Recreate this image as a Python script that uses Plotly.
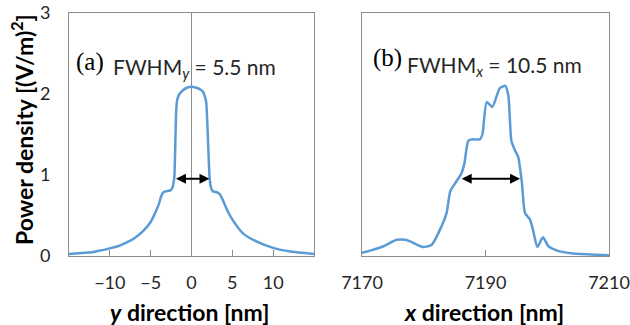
import plotly.graph_objects as go

# ---- data ----
y_pos = [-15, -13, -12, -11, -10, -9, -8, -7, -6, -5, -4.5, -4, -3.7, -3.4, -3.0, -2.6,
         -2.35, -2.2, -2.09, -1.88, -1.75, -1.47, -1.0, -0.5, 0, 0.5, 1.0, 1.39, 1.6,
         1.8, 2.2, 2.35, 2.6, 3.0, 3.4, 3.7, 4.05, 4.5, 5.07, 6.3, 7.94, 10, 12.1, 15]
p_y = [0.025, 0.04, 0.05, 0.07, 0.095, 0.12, 0.165, 0.22, 0.3, 0.42, 0.52, 0.64, 0.74,
       0.79, 0.8, 0.81, 0.84, 0.9, 0.99, 1.78, 1.93, 2.0, 2.05, 2.08, 2.09, 2.08, 2.06,
       2.03, 1.98, 1.9, 0.99, 0.86, 0.8, 0.79, 0.77, 0.72, 0.64, 0.54, 0.44, 0.28, 0.18,
       0.1, 0.055, 0.025]

x_pos = [7170, 7171.5, 7173.5, 7175.6, 7177, 7177.8, 7179.9, 7181.3, 7182.9, 7183.7,
         7184.3, 7185.1, 7186.1, 7186.6, 7187.2, 7187.8, 7189.1, 7189.5, 7190.2, 7191.1,
         7192.3, 7193.2, 7193.7, 7194.2, 7194.8, 7195.3, 7195.9, 7196.4, 7197.2, 7197.7,
         7198.4, 7199.3, 7200.2, 7201.5, 7204.2, 7210]
p_x = [0.04, 0.07, 0.12, 0.2, 0.2, 0.18, 0.11, 0.14, 0.37, 0.53, 0.8, 0.9, 1.02, 1.15,
       1.42, 1.44, 1.44, 1.5, 1.9, 1.84, 2.07, 2.1, 1.98, 1.42, 1.3, 1.22, 0.9, 0.53,
       0.45, 0.32, 0.11, 0.23, 0.12, 0.07, 0.03, 0.01]

fwhm_y = [-2.09, 2.2]      # arrow ends, panel (a)
fwhm_x = [7185.9, 7195.6]  # arrow ends, panel (b)
fwhm_level = 0.955

y_ticks = [-10, -5, 0, 5, 10]
x_ticks = [7170, 7190, 7210]
p_ticks = [0, 1, 2, 3]

# ---- style ----
BLUE = "#5B9BD5"
GRID = "#8C8C8C"
SANS = "Lato"
SERIF = "Liberation Serif"
TXT = "#262626"

W, H = 630, 325


def px(v):
    return v / W


def py(v):
    return 1 - v / H


fig = go.Figure()
fig.add_trace(go.Scatter(x=y_pos, y=p_y, mode="lines", xaxis="x", yaxis="y",
                         line=dict(color=BLUE, width=2.5, shape="spline", smoothing=0.5),
                         showlegend=False, hoverinfo="skip"))
fig.add_trace(go.Scatter(x=x_pos, y=p_x, mode="lines", xaxis="x2", yaxis="y2",
                         line=dict(color=BLUE, width=2.5, shape="spline", smoothing=0.6),
                         showlegend=False, hoverinfo="skip"))

xd1 = [px(69), px(314)]
xd2 = [px(362), px(609)]
yd = [py(256), py(13)]

axis_common = dict(showline=True, mirror=True, linecolor=GRID, linewidth=1, automargin=False,
                   showgrid=False, tickfont=dict(family=SANS, size=18, color=TXT))

fig.update_layout(
    width=W, height=H, margin=dict(l=0, r=0, t=0, b=0, autoexpand=False),
    paper_bgcolor="white", plot_bgcolor="white",
    xaxis=dict(domain=xd1, range=[-15, 15], tickvals=y_ticks, ticks="inside", ticklen=6,
               tickcolor=GRID, zeroline=True, zerolinecolor=GRID, zerolinewidth=1,
               ticklabelstandoff=10, anchor="y", **axis_common),
    yaxis=dict(domain=yd, range=[0, 3], tickvals=p_ticks, ticks="", zeroline=False,
               ticklabelstandoff=14, anchor="x", **axis_common),
    xaxis2=dict(domain=xd2, range=[7170, 7210], tickvals=x_ticks, ticks="inside", ticklen=6,
                tickcolor=GRID, zeroline=False, ticklabelstandoff=10, anchor="y2",
                ticklabeloverflow="allow", **axis_common),
    yaxis2=dict(domain=yd, range=[0, 3], showticklabels=False, ticks="", zeroline=False,
                anchor="x2", **axis_common),
)

ann = []
# double-headed FWHM arrows
ann.append(dict(x=fwhm_y[1], y=fwhm_level, ax=fwhm_y[0], ay=fwhm_level, xref="x", yref="y",
                axref="x", ayref="y", text="", showarrow=True, arrowhead=2, arrowsize=1,
                arrowwidth=2, arrowcolor="black", arrowside="end+start",
                standoff=0, startstandoff=0))
ann.append(dict(x=fwhm_x[1], y=fwhm_level, ax=fwhm_x[0], ay=fwhm_level, xref="x2", yref="y2",
                axref="x2", ayref="y2", text="", showarrow=True, arrowhead=2, arrowsize=1,
                arrowwidth=2, arrowcolor="black", arrowside="end+start",
                standoff=0, startstandoff=0))
# panel labels
ann.append(dict(x=px(90), y=py(62), xref="paper", yref="paper", text="(a)",
                showarrow=False, xanchor="center", yanchor="middle",
                font=dict(family=SERIF, size=25, color="black")))
ann.append(dict(x=px(111), y=py(68), xref="paper", yref="paper",
                text="FWHM<sub><i>y</i></sub> = 5.5 nm", showarrow=False,
                xanchor="left", yanchor="middle", font=dict(family=SANS, size=21, color=TXT)))
ann.append(dict(x=px(387), y=py(58), xref="paper", yref="paper", text="(b)",
                showarrow=False, xanchor="center", yanchor="middle",
                font=dict(family=SERIF, size=25, color="black")))
ann.append(dict(x=px(405), y=py(66), xref="paper", yref="paper",
                text="FWHM<sub><i>x</i></sub> = 10.5 nm", showarrow=False,
                xanchor="left", yanchor="middle", font=dict(family=SANS, size=21, color=TXT)))
# axis titles
ann.append(dict(x=px(189), y=py(312), xref="paper", yref="paper",
                text="<b><i>y</i> direction [nm]</b>", showarrow=False,
                xanchor="center", yanchor="middle", font=dict(family=SANS, size=23, color="black")))
ann.append(dict(x=px(484), y=py(312), xref="paper", yref="paper",
                text="<b><i>x</i> direction [nm]</b>", showarrow=False,
                xanchor="center", yanchor="middle", font=dict(family=SANS, size=23, color="black")))
ann.append(dict(x=px(22), y=py(130), xref="paper", yref="paper",
                text="<b>Power density [(V/m)<sup>2</sup>]</b>", showarrow=False, textangle=-90,
                xanchor="center", yanchor="middle", font=dict(family=SANS, size=23, color="black")))
fig.update_layout(annotations=ann)

# remove the default 8px page margin so the figure fills the window exactly
fig.write_html("out.html", config={"displayModeBar": False},
               post_script="document.body.style.margin='0';document.body.style.overflow='hidden';")
